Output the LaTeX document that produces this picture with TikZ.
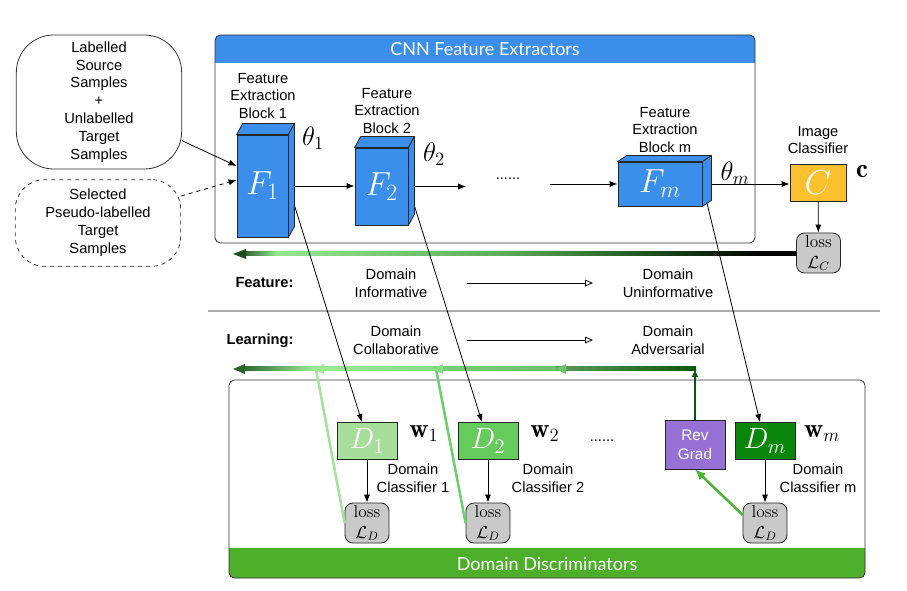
\RequirePackage{fix-cm}
\documentclass[tikz,border=0pt]{standalone}
\usepackage{fontspec}
\usepackage{amsmath}
\newfontfamily\helv{Liberation Sans}
\newfontfamily\gill{Lato}
\usetikzlibrary{arrows.meta,calc,positioning}

\definecolor{cnnblue}{HTML}{3B8EEA}
\definecolor{cyellow}{HTML}{FBC02D}
\definecolor{lossgray}{HTML}{C9C9C9}
\definecolor{dOne}{HTML}{A8DE9B}
\definecolor{dTwo}{HTML}{64CB5C}
\definecolor{dEm}{HTML}{0A870A}
\definecolor{revpurple}{HTML}{9670D4}
\definecolor{discgreen}{HTML}{4DAE2A}
\definecolor{rulegray}{HTML}{ADADAD}
\definecolor{fbdark}{HTML}{1E4D1E}
\definecolor{fblight}{HTML}{93E68E}
\definecolor{fbmid}{HTML}{5DAE5B}
\definecolor{fbdeep}{HTML}{1D4F1D}
\definecolor{advA}{HTML}{2A622A}
\definecolor{advB}{HTML}{9AE894}
\definecolor{advC}{HTML}{88DE84}
\definecolor{advD}{HTML}{76CE73}
\definecolor{advE}{HTML}{6EC06B}
\definecolor{advF}{HTML}{5C9C58}
\definecolor{advG}{HTML}{0A560A}
\definecolor{gOne}{HTML}{A3E39A}
\definecolor{gTwo}{HTML}{6DD06A}
\definecolor{gThree}{HTML}{4DB536}

% gradient of the classifier loss feedback
\pgfdeclarehorizontalshading{lossflow}{100bp}{color(0bp)=(fbdark); color(25bp)=(fbdark); color(28.3bp)=(fblight); color(48.4bp)=(fbmid); color(61.9bp)=(fbdeep); color(71.8bp)=(black); color(100bp)=(black)}
% gradient of the discriminator feedback
\pgfdeclarehorizontalshading{advflow}{100bp}{color(0bp)=(advA); color(25bp)=(advA); color(33bp)=(advB); color(46.1bp)=(advC); color(46.3bp)=(advD); color(59.5bp)=(advE); color(59.8bp)=(advF); color(75bp)=(advG); color(100bp)=(advG)}

\begin{document}
\begin{tikzpicture}[x=0.75pt, y=-0.75pt]

\tikzset{txt/.style = {font=\helv\fontsize{11}{13.4}\selectfont, align=center, inner sep=1pt},
	bold/.style = {txt, font=\helv\bfseries\fontsize{11}{13.4}\selectfont},
	title/.style = {text=white, inner sep=1pt, font=\gill\fontsize{13.5}{14}\selectfont},
	sample/.style = {txt, draw=black!80, line width=0.6pt, minimum width=124pt},
	fblock/.style = {draw=black!85, fill=cnnblue, line width=0.6pt, text=white, inner sep=0pt, font=\fontsize{25}{25}\selectfont},
	fface/.style = {draw=black!85, fill=cnnblue, line width=0.6pt, line join=round},
	dblock/.style = {draw=black!85, line width=0.6pt, text=white, inner sep=0pt, minimum width=45pt, minimum height=27.75pt, font=\fontsize{22}{22}\selectfont},
	lossbox/.style = {draw=black!85, fill=lossgray, line width=0.6pt, rounded corners=6pt, minimum width=33pt, minimum height=30pt, inner sep=0pt, align=center, font=\fontsize{13}{15.5}\selectfont},
	mathlab/.style = {inner sep=0pt, font=\fontsize{20}{20}\selectfont},
	conn/.style = {-{Latex[length=6pt,width=4.5pt]}, line width=0.6pt},
	openarr/.style = {-{Triangle[open,length=6pt,width=5pt]}, line width=0.6pt},
	glink/.style = {line width=1.9pt}}

\useasboundingbox (0,0) rectangle (907,591);

% containers
\fill[cnnblue] (215,63) {[rounded corners=4pt] -- (215,35) -- (755,35)} -- (755,63) -- cycle;
\draw[draw=black!80, line width=0.6pt, rounded corners=4pt] (215,35) rectangle (755,243);
\node[title] (cnnTitle) at (485,49) {CNN Feature Extractors};

\fill[discgreen] (229,548) {[rounded corners=4pt] -- (229,578) -- (865,578)} -- (865,548) -- cycle;
\draw[draw=black!80, line width=0.6pt, rounded corners=4pt] (229,380) rectangle (865,578);
\node[title] (discTitle) at (547,564) {Domain Discriminators};

% inputs
\node[sample, minimum height=100.5pt, rounded corners=28pt] (src) at (99,102) {Labelled\\Source\\Samples\\+\\Unlabelled\\Target\\Samples};
\node[sample, minimum height=65pt, rounded corners=22pt, dashed] (sel) at (98,223) {Selected\\Pseudo-labelled\\Target\\Samples};

% feature extraction blocks
\foreach \i/\cx/\cy/\bw/\bh/\tx/\ty in {1/262.5/186/51/102/313/138, 2/381.5/186.5/53/77/434/154, m/660/184/84/44/735/173}
{
	\node[fblock, minimum width=\bw*0.75pt, minimum height=\bh*0.75pt] (F\i) at (\cx,\cy) {$F_{\i}$};
	\node[mathlab] (theta\i) at (\tx,\ty) {$\theta_{\i}$};
}
\node[txt] (lab1) at (263,96) {Feature\\Extraction\\Block 1};
\node[txt] (lab2) at (387,111) {Feature\\Extraction\\Block 2};
\node[txt] (labm) at (665,130) {Feature\\Extraction\\Block m};
\node[txt, inner xsep=22pt] (dots1) at (508,179) {......};

% image classifier
\node[draw=black!85, fill=cyellow, line width=0.6pt, text=white, inner sep=0pt, minimum width=42pt, minimum height=27.75pt, font=\fontsize{26}{26}\selectfont] (C) at (818,182.5) {$C$};
\node[txt] (labC) at (818,140) {Image\\Classifier};
\node[mathlab] (cvec) at (862,172) {$\mathbf{c}$};
\node[lossbox] (lossC) at (818.5,253) {loss\\$\mathcal{L}_C$};

% domain discriminators
\foreach \i/\cx/\lx/\fc in {1/367/413/dOne, 2/488/548/dTwo, m/765/818/dEm}
{
	\node[dblock, fill=\fc] (D\i) at (\cx,441) {$D_{\i}$};
	\node[mathlab] (w\i) at (\cx+57,434) {$\mathbf{w}_{\i}$};
	\node[txt] (labD\i) at (\lx,478) {Domain\\Classifier \i};
	\node[lossbox] (loss\i) at (\cx,523) {loss\\$\mathcal{L}_D$};
	\draw[conn] (D\i) -- (loss\i);
}
\node[txt] (dots2) at (602,441) {......};
\node[draw=black!85, fill=revpurple, line width=0.6pt, text=white, inner sep=0pt, minimum width=45pt, minimum height=36.75pt, align=center, font=\helv\fontsize{11.5}{14}\selectfont] (rev) at (695,444.5) {Rev\\Grad};

% feature / learning legend
\draw[rulegray, line width=2.2pt] (208,311) -- (880,311);
\node[bold, anchor=east] (featL) at (295,283) {Feature:};
\node[txt] (infA) at (391,283) {Domain\\Informative};
\node[txt] (infB) at (668,283) {Domain\\Uninformative};
\node[bold, anchor=east] (learnL) at (295,341) {Learning:};
\node[txt] (colA) at (396,340) {Domain\\Collaborative};
\node[txt] (colB) at (668,340) {Domain\\Adversarial};
\draw[openarr] (infA.east -| 467,0) -- (infA.east -| 593,0);
\draw[openarr] (colA.east -| 467,0) -- (colA.east -| 593,0);

% feedback paths
\coordinate (fbL) at (233,254);
\coordinate (jL) at (233,369);
\coordinate (j1) at (313,369);
\coordinate (j2) at (432,369);
\coordinate (j3) at (555,369);
\coordinate (jR) at (695,369);

\shade[shading=lossflow] ($(fbL)+(7,-2.5)$) rectangle ($(lossC.west)+(0,2.5)$);
\fill[fbdark] (fbL) -- ++(13,-5) -- ++(0,10) -- cycle;

\draw[glink, gOne] (loss1.west) -- ($(j1)+(3,0)$);
\draw[glink, gTwo] (loss2.west) -- ($(j2)+(4,0)$);
\draw[glink, gThree, -{Latex[length=8pt,width=7pt]}] (lossm.160) -- (rev.south);
\draw[glink, advG, -{Latex[length=6pt,width=5pt]}] (rev.north) -- (jR);
\shade[shading=advflow] ($(jL)+(7,-2)$) rectangle ($(jR)+(1,2)$);
\fill[advA] (jL) -- ++(12,-5) -- ++(0,10) -- cycle;
\fill[advB] (j1) -- ++(11,-5) -- ++(0,10) -- cycle;
\fill[advC] (j2) -- ++(11,-5) -- ++(0,10) -- cycle;
\fill[advE] (j3) -- ++(11,-5) -- ++(0,10) -- cycle;

% forward connections
\draw[conn] (src.-25) -- ($(F1.west)+(0,-20)$);
\draw[conn, dashed] (sel.18) -- ($(F1.west)+(0,-6)$);
\draw[conn] (F1.east) -- (F1.east -| F2.west);
\draw[conn] (F2.east) -- (F2.east -| dots1.west);
\draw[conn] (dots1.east |- Fm.west) -- (Fm.west);
\draw[conn] (Fm.east) -- (Fm.east -| C.west);
\draw[conn] (C) -- (lossC);
\draw[conn] (F1.east) -- ($(D1.north)+(-5,0)$);
\draw[conn] (F2.east) -- ($(D2.north)+(-6,0)$);
\draw[conn] (Fm.east) -- ($(Dm.north)+(-5,0)$);

% block depth faces
\foreach \i/\dx/\dy in {1/6/11, 2/6/11, m/9/6}
{
	\filldraw[fface] (F\i.north west) -- ++(\dx,-\dy) -- ($(F\i.north east)+(\dx,-\dy)$) -- (F\i.north east) -- cycle;
	\filldraw[fface] (F\i.north east) -- ++(\dx,-\dy) -- ($(F\i.south east)+(\dx,-\dy)$) -- (F\i.south east) -- cycle;
}

\end{tikzpicture}
\end{document}
